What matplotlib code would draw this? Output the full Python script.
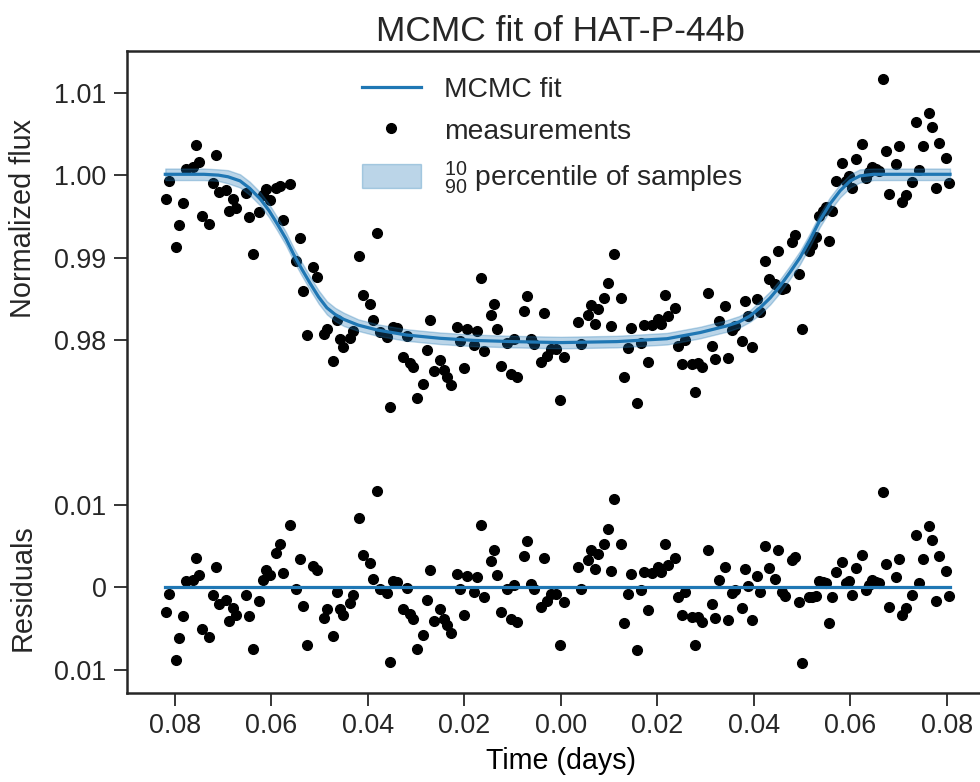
import numpy as np
import matplotlib
matplotlib.use('Agg')
from matplotlib import pyplot as plt
from matplotlib import transforms

plt.rcParams['font.family'] = ['Liberation Sans', 'DejaVu Sans']
plt.rcParams['mathtext.fontset'] = 'custom'
plt.rcParams['mathtext.rm'] = 'Liberation Sans'
plt.rcParams['text.color'] = '#262626'
plt.rcParams['axes.edgecolor'] = '#262626'
plt.rcParams['xtick.color'] = '#262626'
plt.rcParams['ytick.color'] = '#262626'

'''
Values read off the figure
'''
# MCMC best fit (time in days, normalized flux)
model_t = [-0.0820, -0.0740, -0.0710, -0.0690, -0.0665, -0.0645, -0.0623, -0.0605, -0.0588, -0.0570,
           -0.0554, -0.0537, -0.0519, -0.0502, -0.0485, -0.0468, -0.0450, -0.0420, -0.0380, -0.0320,
           -0.0250, -0.0181, -0.0100, 0.0000, 0.0116, 0.0220, 0.0289, 0.0344, 0.0370, 0.0392,
           0.0413, 0.0434, 0.0454, 0.0475, 0.0496, 0.0517, 0.0537, 0.0558, 0.0579, 0.0600,
           0.0620, 0.0648, 0.0807]
model_flux = [1.0001, 1.0001, 1.0000, 0.9998, 0.9993, 0.9984, 0.9971, 0.9957, 0.9941, 0.9923,
              0.9904, 0.9886, 0.9868, 0.9852, 0.9839, 0.9831, 0.9825, 0.9818, 0.9812, 0.9806,
              0.9802, 0.97995, 0.9798, 0.97968, 0.9798, 0.98015, 0.9809, 0.9817, 0.9822, 0.9829,
              0.9839, 0.9851, 0.9865, 0.9882, 0.9900, 0.9922, 0.9945, 0.9965, 0.9981, 0.9993,
              0.9999, 1.0001, 1.0001]
# half width of the 10-90 percentile band of the samples
band_halfwidth = [0.0007, 0.0007, 0.0007, 0.0008, 0.0008, 0.0008, 0.0008, 0.0008, 0.0008, 0.0008,
                  0.0008, 0.0008, 0.0008, 0.0008, 0.0008, 0.0008, 0.0008, 0.0007, 0.0007, 0.0007,
                  0.0007, 0.0007, 0.0007, 0.0007, 0.0007, 0.0007, 0.0007, 0.0007, 0.0007, 0.0007,
                  0.0008, 0.0008, 0.0008, 0.0008, 0.0008, 0.0008, 0.0008, 0.0008, 0.0008, 0.0008,
                  0.0008, 0.0007, 0.0007]

# measurements: time (days) and residual to the fit (units of 1e-3)
meas_t = [-0.0819, -0.0812, -0.0798, -0.0791, -0.0784, -0.0777, -0.0763, -0.0756, -0.0750, -0.0743,
          -0.0729, -0.0722, -0.0715, -0.0708, -0.0694, -0.0687, -0.0680, -0.0673, -0.0653, -0.0646,
          -0.0638, -0.0625, -0.0618, -0.0611, -0.0603, -0.0591, -0.0582, -0.0575, -0.0562, -0.0548,
          -0.0541, -0.0534, -0.0527, -0.0514, -0.0506, -0.0492, -0.0485, -0.0472, -0.0465, -0.0458,
          -0.0451, -0.0437, -0.0430, -0.0418, -0.0410, -0.0396, -0.0389, -0.0382, -0.0375, -0.0361,
          -0.0354, -0.0347, -0.0339, -0.0327, -0.0318, -0.0313, -0.0306, -0.0299, -0.0285, -0.0278,
          -0.0271, -0.0263, -0.0251, -0.0242, -0.0235, -0.0228, -0.0216, -0.0209, -0.0201, -0.0194,
          -0.0180, -0.0173, -0.0166, -0.0159, -0.0145, -0.0139, -0.0132, -0.0125, -0.0111, -0.0104,
          -0.0097, -0.0090, -0.0076, -0.0070, -0.0062, -0.0056, -0.0042, -0.0035, -0.0028, -0.0021,
          -0.0009, -0.0002, 0.0007, 0.0035, 0.0042, 0.0056, 0.0063, 0.0070, 0.0077, 0.0090,
          0.0097, 0.0104, 0.0111, 0.0125, 0.0132, 0.0139, 0.0146, 0.0159, 0.0166, 0.0173,
          0.0180, 0.0189, 0.0201, 0.0208, 0.0216, 0.0223, 0.0237, 0.0244, 0.0251, 0.0258,
          0.0271, 0.0278, 0.0285, 0.0292, 0.0306, 0.0313, 0.0320, 0.0327, 0.0341, 0.0347,
          0.0354, 0.0361, 0.0375, 0.0382, 0.0389, 0.0396, 0.0407, 0.0414, 0.0423, 0.0432,
          0.0444, 0.0451, 0.0458, 0.0465, 0.0479, 0.0486, 0.0494, 0.0501, 0.0515, 0.0521,
          0.0529, 0.0535, 0.0543, 0.0549, 0.0556, 0.0563, 0.0570, 0.0584, 0.0591, 0.0598,
          0.0604, 0.0611, 0.0625, 0.0632, 0.0639, 0.0646, 0.0653, 0.0660, 0.0667, 0.0674,
          0.0681, 0.0694, 0.0701, 0.0708, 0.0715, 0.0729, 0.0736, 0.0743, 0.0750, 0.0763,
          0.0770, 0.0777, 0.0784, 0.0798, 0.0805]
meas_resid = [-3.0, -0.8, -8.8, -6.2, -3.5, 0.7, 0.85, 3.5, 1.5, -5.1,
              -6.0, -1.0, 2.4, -2.0, -1.6, -4.1, -2.55, -3.4, -0.9, -3.5,
              -7.5, -1.7, 0.9, 2.1, 1.5, 4.1, 5.2, 1.7, 7.6, -0.2,
              3.4, -2.3, -7.0, 2.55, 2.1, -3.7, -2.6, -5.9, -0.6, -2.6,
              -3.4, -1.9, -0.9, 8.4, 3.85, 2.95, 1.05, 11.7, -0.2, -0.7,
              -9.1, 0.7, 0.6, -2.7, -0.1, -3.3, -3.85, -7.5, -5.8, -1.6,
              2.1, -4.05, -2.6, -3.85, -4.6, -5.6, 1.55, -0.2, -3.4, 1.35,
              -0.6, 1.2, 7.6, -1.2, 3.15, 4.5, 1.45, -3.0, -0.2, -3.9,
              0.3, -4.25, 3.75, 5.6, 0.4, -0.2, -2.4, 3.6, -1.7, -0.8,
              -0.8, -7.0, -1.8, 2.5, -0.2, 3.3, 4.5, 2.15, 4.0, 5.3,
              7.1, 1.95, 10.65, 5.3, -4.4, -0.8, 1.55, -7.65, -0.3, 1.8,
              -2.75, 1.75, 2.5, 1.85, 5.3, 2.7, 3.6, -1.2, -3.4, -0.6,
              -3.6, -7.05, -3.6, -4.25, 4.55, -2.0, -3.7, 0.85, 2.5, -4.0,
              -0.7, -0.35, -2.5, 2.2, 0.1, -4.0, 1.35, -0.6, 5.05, 2.35,
              1.0, 4.5, -0.6, -1.1, 3.3, 3.65, -1.8, -9.15, -1.2, -1.15,
              -1.1, 0.75, 0.6, 0.5, -4.3, -1.2, 1.85, 3.1, 0.5, 0.75,
              -0.95, 2.35, 3.9, -0.3, 0.3, 0.85, 0.6, 0.45, 11.6, 2.8,
              -2.4, 1.25, 3.45, -3.4, -2.5, -0.9, 6.3, 0.5, 3.45, 7.45,
              5.7, -1.65, 3.75, 2.0, -1.1]

# residuals are drawn below the light curve, shifted by this offset
resid_offset = 0.95

yticks = [0.94, 0.95, 0.96, 0.98, 0.99, 1.00, 1.01]
yticklabels = ['0.01', '0', '0.01', '0.98', '0.99', '1.00', '1.01']
xticks = [-0.08, -0.06, -0.04, -0.02, 0.00, 0.02, 0.04, 0.06, 0.08]
xticklabels = ['0.08', '0.06', '0.04', '0.02', '0.00', '0.02', '0.04', '0.06', '0.08']

'''
Derived quantities
'''
model_t = np.array(model_t)
model_flux = np.array(model_flux)
band_halfwidth = np.array(band_halfwidth)
meas_t = np.array(meas_t)
meas_resid = np.array(meas_resid) * 1e-3
meas_flux = np.interp(meas_t, model_t, model_flux) + meas_resid

'''
Plot
'''
blue = '#1f77b4'
fig = plt.figure(figsize=(9.8, 7.82), dpi=100)
ax = fig.add_axes([0.1293, 0.1142, 0.8859, 0.8210])

meas, = ax.plot(meas_t, meas_flux, 'o', color='k', ms=7, zorder=1)
ax.plot(meas_t, resid_offset + meas_resid, 'o', color='k', ms=7, zorder=1)
fit, = ax.plot(model_t, model_flux, color=blue, lw=2.3, zorder=2)
band = ax.fill_between(model_t, model_flux - band_halfwidth, model_flux + band_halfwidth,
                       color=blue, alpha=0.3, zorder=3)
ax.plot(model_t, np.full(model_t.shape, resid_offset), color=blue, lw=2.3, zorder=2)

ax.set_xlim(-0.09, 0.09)
ax.set_ylim(0.9372, 1.0151)
ax.set_xticks(xticks)
ax.set_xticklabels(xticklabels)
ax.set_yticks(yticks)
ax.set_yticklabels(yticklabels)
ax.tick_params(direction='out', length=9.5, width=1.3, labelsize=19.4, pad=5)
for side in ['left', 'bottom', 'top']:
    ax.spines[side].set_linewidth(1.8)
ax.spines['right'].set_visible(False)

ax.set_title('MCMC fit of HAT-P-44b', fontsize=25.5, pad=7)
ax.set_xlabel('Time (days)', fontsize=20.6, labelpad=6)

trans = transforms.blended_transform_factory(fig.transFigure, ax.transData)
ax.text(0.023, 0.9948, 'Normalized flux', transform=trans, rotation=90,
        ha='center', va='center', fontsize=20.8)
ax.text(0.023, resid_offset, 'Residuals', transform=trans, rotation=90,
        ha='center', va='center', fontsize=20.8)

ax.legend([fit, meas, band],
          ['MCMC fit', 'measurements', r'$\mathregular{^{10}_{90}}$ percentile of samples'],
          loc='upper center', bbox_to_anchor=(0.49, 1.0), frameon=False,
          fontsize=20.3, handlelength=2.1, handleheight=0.9)

fig.savefig('out.png', dpi=100)
